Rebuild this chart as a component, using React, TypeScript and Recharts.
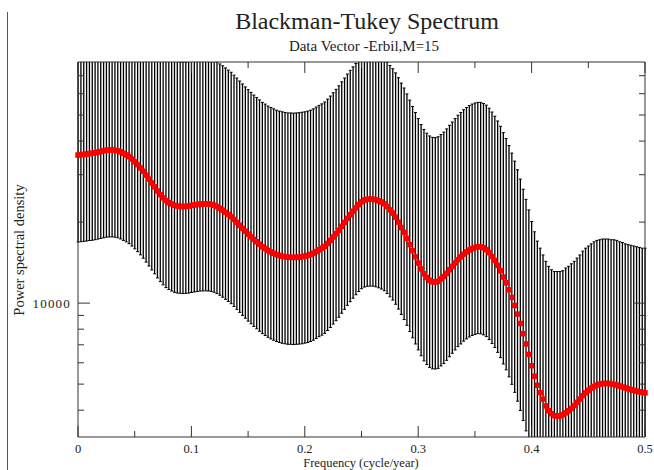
import React from "react";
import * as Recharts from "recharts";

const { ComposedChart, Bar, Scatter, XAxis, YAxis } = Recharts;
// plot-area hook (recharts 3.1+); used to keep the confidence bars inside the frame
const usePlotArea: () => any = (Recharts as any).usePlotArea ?? (() => undefined);

// frequency grid: one estimate every 0.0025 cycle/year, 0 .. 0.5
const freqStep = 0.0025;

// Blackman-Tukey spectral estimate
const psd = [
  35500, 35600, 35700, 35800, 35950, 36050, 36200, 36400, 36600, 36800,
  37000, 37080, 37100, 37000, 36800, 36450, 36000, 35550, 35000, 34300,
  33500, 32700, 31800, 30900, 29900, 28900, 27950, 27050, 26100, 25300,
  24600, 24050, 23650, 23350, 23100, 22950, 22880, 22850, 22880, 22950,
  23050, 23150, 23250, 23320, 23360, 23380, 23350, 23270, 23100, 22850,
  22500, 22150, 21750, 21350, 20950, 20450, 19950, 19450, 18950, 18500,
  18050, 17650, 17250, 16900, 16550, 16200, 15950, 15700, 15500, 15320,
  15150, 15030, 14930, 14860, 14810, 14790, 14780, 14790, 14820, 14870,
  14940, 15030, 15150, 15330, 15550, 15780, 16000, 16250, 16650, 17100,
  17600, 18100, 18650, 19300, 19950, 20650, 21300, 21950, 22600, 23250,
  23800, 24150, 24300, 24360, 24330, 24200, 24000, 23750, 23400, 22850,
  22200, 21600, 20850, 20000, 19100, 18300, 17400, 16500, 15650, 14850,
  14100, 13400, 12850, 12450, 12150, 12000, 11980, 12050, 12300, 12550,
  12900, 13300, 13700, 14100, 14500, 14850, 15200, 15500, 15750, 15950,
  16100, 16200, 16180, 16050, 15800, 15400, 14900, 14400, 13800, 13200,
  12500, 11900, 11200, 10500, 9800, 9100, 8400, 7700, 7050, 6450,
  5850, 5350, 4950, 4650, 4400, 4150, 3980, 3880, 3820, 3800,
  3810, 3850, 3910, 3980, 4060, 4160, 4280, 4400, 4530, 4640,
  4740, 4830, 4900, 4960, 5000, 5020, 5030, 5030, 5010, 4990,
  4960, 4920, 4880, 4840, 4800, 4770, 4740, 4710, 4680, 4660,
  4640,
];

// lower confidence limit (bottom ends of the black bars)
const lowerCI = [
  16860, 16910, 16960, 17010, 17080, 17120, 17200, 17290, 17390, 17480,
  17580, 17610, 17620, 17580, 17480, 17310, 17100, 16890, 16630, 16290,
  15910, 15530, 15110, 14680, 14200, 13730, 13280, 12850, 12400, 12020,
  11690, 11420, 11230, 11090, 10970, 10900, 10870, 10850, 10870, 10900,
  10950, 11000, 11040, 11080, 11100, 11110, 11090, 11050, 10970, 10850,
  10690, 10520, 10330, 10140, 9950, 9710, 9480, 9240, 9000, 8790,
  8570, 8380, 8190, 8030, 7860, 7700, 7580, 7460, 7360, 7280,
  7200, 7140, 7090, 7060, 7030, 7030, 7020, 7030, 7040, 7060,
  7100, 7140, 7200, 7280, 7390, 7500, 7600, 7720, 7910, 8120,
  8360, 8600, 8860, 9170, 9480, 9810, 10120, 10430, 10740, 11040,
  11310, 11470, 11540, 11570, 11560, 11500, 11400, 11280, 11120, 10850,
  10550, 10260, 9900, 9500, 9070, 8690, 8270, 7840, 7430, 7050,
  6700, 6370, 6100, 5910, 5770, 5700, 5690, 5720, 5840, 5960,
  6130, 6320, 6510, 6700, 6890, 7050, 7220, 7360, 7480, 7580,
  7650, 7700, 7690, 7620, 7510, 7320, 7080, 6840, 6560, 6270,
  5940, 5650, 5320, 4990, 4660, 4320, 3990, 3660, 3350, 3060,
  2780, 2540, 2350, 2210, 2090, 1970, 1890, 1840, 1810, 1810,
  1810, 1830, 1860, 1890, 1930, 1980, 2030, 2090, 2150, 2200,
  2250, 2290, 2330, 2360, 2380, 2380, 2390, 2390, 2380, 2370,
  2360, 2340, 2320, 2300, 2280, 2270, 2250, 2240, 2220, 2210,
  2200,
];

// upper confidence limit (top ends of the black bars, clipped by the frame)
const upperCI = [
  122100, 122500, 122800, 123200, 123700, 124000, 124500, 125200, 125900, 126600,
  127300, 127600, 127600, 127300, 126600, 125400, 123800, 122300, 120400, 118000,
  115200, 112500, 109400, 106300, 102900, 99400, 96100, 93100, 89800, 87000,
  84600, 82700, 81400, 80300, 79500, 78900, 78700, 78600, 78700, 78900,
  79300, 79600, 80000, 80200, 80400, 80400, 80300, 80000, 79500, 78600,
  77400, 76200, 74800, 73400, 72100, 70300, 68600, 66900, 65200, 63600,
  62100, 60700, 59300, 58100, 56900, 55700, 54900, 54000, 53300, 52700,
  52100, 51700, 51400, 51100, 50900, 50900, 50800, 50900, 51000, 51200,
  51400, 51700, 52100, 52700, 53500, 54300, 55000, 55900, 57300, 58800,
  60500, 62300, 64200, 66400, 68600, 71000, 73300, 75500, 77700, 80000,
  81900, 83100, 83600, 83800, 83700, 83200, 82600, 81700, 80500, 78600,
  76400, 74300, 71700, 68800, 65700, 63000, 59900, 56800, 53800, 51100,
  48500, 46100, 44200, 42800, 41800, 41300, 41200, 41500, 42300, 43200,
  44400, 45800, 47100, 48500, 49900, 51100, 52300, 53300, 54200, 54900,
  55400, 55700, 55700, 55200, 54400, 53000, 51300, 49500, 47500, 45400,
  43000, 40900, 38500, 36100, 33700, 31300, 28900, 26500, 24300, 22200,
  20100, 18400, 17000, 16000, 15100, 14300, 13700, 13300, 13100, 13100,
  13100, 13200, 13500, 13700, 14000, 14300, 14700, 15100, 15600, 16000,
  16300, 16600, 16900, 17100, 17200, 17300, 17300, 17300, 17200, 17200,
  17100, 16900, 16800, 16600, 16500, 16400, 16300, 16200, 16100, 16000,
  16000,
];

const xTicks = [0, 0.05, 0.1, 0.15, 0.2, 0.25, 0.3, 0.35, 0.4, 0.45, 0.5];
const yTicks = [4000, 5000, 6000, 7000, 8000, 9000, 10000, 20000, 30000, 40000, 50000, 60000, 70000];
const yLabelled = [10000];
const yDomain = [3180, 78700];

const FONT = '"Liberation Serif", "Times New Roman", serif';
const AXIS = "#333";

const rows = psd.map((v, i) => ({
  f: i * freqStep,
  psd: v,
  band: [lowerCI[i], upperCI[i]],
}));

const isMajorX = (v: number) => Math.abs(v * 10 - Math.round(v * 10)) < 1e-6;

const xTick = (side: "top" | "bottom") => (props: any) => {
  const { x, y, payload } = props;
  const major = isMajorX(payload.value);
  const len = major ? 11 : 6;
  const dir = side === "top" ? 1 : -1;
  return (
    <g>
      <line x1={x} x2={x} y1={y} y2={y + dir * len} stroke={AXIS} />
      {side === "bottom" && major && (
        <text x={x} y={y + 16} textAnchor="middle" fontFamily={FONT} fontSize={12.5} fill="#222">
          {String(Math.round(payload.value * 10) / 10)}
        </text>
      )}
    </g>
  );
};

const yTick = (side: "left" | "right") => (props: any) => {
  const { x, y, payload } = props;
  const major = yLabelled.includes(payload.value);
  const len = major ? 12 : 6;
  const dir = side === "left" ? 1 : -1;
  return (
    <g>
      <line x1={x} x2={x + dir * len} y1={y} y2={y} stroke={AXIS} />
      {side === "left" && major && (
        <text
          x={x - 7}
          y={y}
          dy={4.5}
          textAnchor="end"
          fontFamily={FONT}
          fontSize={13}
          letterSpacing={1.2}
          fill="#222"
        >
          {payload.value}
        </text>
      )}
    </g>
  );
};

// one confidence interval: a thin vertical bar with tiny caps, kept inside the frame
const CIBar = (props: any) => {
  const plot = usePlotArea();
  const { x, y, width, height } = props;
  if (x == null || y == null || width == null || height == null) return null;
  const cx = x + width / 2;
  let top = Math.min(y, y + height);
  let bottom = Math.max(y, y + height);
  let capTop = true;
  let capBottom = true;
  if (plot) {
    if (top < plot.y) {
      top = plot.y;
      capTop = false;
    }
    if (bottom > plot.y + plot.height) {
      bottom = plot.y + plot.height;
      capBottom = false;
    }
  }
  if (bottom <= top) return null;
  return (
    <g stroke="#000" strokeWidth={1.3}>
      <line x1={cx} x2={cx} y1={top} y2={bottom} />
      {capTop && <line x1={cx - 1.5} x2={cx + 1.5} y1={top} y2={top} strokeWidth={1} />}
      {capBottom && <line x1={cx - 1.5} x2={cx + 1.5} y1={bottom} y2={bottom} strokeWidth={1} />}
    </g>
  );
};

const RedSquare = (props: any) => {
  const { cx, cy } = props;
  if (cx == null || cy == null) return <g />;
  return <rect x={cx - 2.75} y={cy - 2.75} width={5.5} height={5.5} fill="#ff0000" />;
};

export default function App() {
  return (
    <div
      style={{
        position: "absolute",
        left: 0,
        top: 0,
        width: 654,
        height: 470,
        background: "#fff",
        fontFamily: FONT,
        color: "#222",
      }}
    >
      <ComposedChart width={654} height={470} data={rows} margin={{ top: 61, right: 8, bottom: 32, left: 77 }}>
        <XAxis
          xAxisId="b"
          dataKey="f"
          type="number"
          orientation="bottom"
          domain={[0, 0.5]}
          ticks={xTicks}
          interval={0}
          height={1}
          tickSize={0}
          tickMargin={0}
          tickLine={false}
          tick={xTick("bottom")}
          axisLine={{ stroke: AXIS }}
        />
        <XAxis
          xAxisId="t"
          dataKey="f"
          type="number"
          orientation="top"
          domain={[0, 0.5]}
          ticks={xTicks}
          interval={0}
          height={1}
          tickSize={0}
          tickMargin={0}
          tickLine={false}
          tick={xTick("top")}
          axisLine={{ stroke: AXIS }}
        />
        <YAxis
          yAxisId="l"
          type="number"
          scale="log"
          domain={yDomain}
          allowDataOverflow
          ticks={yTicks}
          interval={0}
          width={1}
          tickSize={0}
          tickMargin={0}
          tickLine={false}
          tick={yTick("left")}
          axisLine={{ stroke: AXIS }}
        />
        <YAxis
          yAxisId="r"
          dataKey="psd"
          type="number"
          scale="log"
          orientation="right"
          domain={yDomain}
          ticks={yTicks}
          interval={0}
          width={1}
          tickSize={0}
          tickMargin={0}
          tickLine={false}
          tick={yTick("right")}
          axisLine={{ stroke: AXIS }}
        />
        <Bar
          dataKey="band"
          xAxisId="b"
          yAxisId="l"
          barSize={1}
          shape={<CIBar />}
          isAnimationActive={false}
        />
        <Scatter
          data={rows}
          dataKey="psd"
          xAxisId="t"
          yAxisId="r"
          shape={RedSquare}
          isAnimationActive={false}
        />
      </ComposedChart>

      <div style={{ position: "absolute", left: 7, top: 12, width: 1, height: 458, background: "#555" }} />
      <div
        style={{
          position: "absolute",
          left: 167,
          top: 7,
          width: 400,
          textAlign: "center",
          fontSize: 24,
          lineHeight: "28px",
          whiteSpace: "nowrap",
        }}
      >
        Blackman-Tukey Spectrum
      </div>
      <div
        style={{
          position: "absolute",
          left: 164,
          top: 38,
          width: 400,
          textAlign: "center",
          fontSize: 15,
          lineHeight: "17px",
          whiteSpace: "nowrap",
        }}
      >
        Data Vector -Erbil,M=15
      </div>
      <div
        style={{
          position: "absolute",
          left: 161,
          top: 457,
          width: 400,
          textAlign: "center",
          fontSize: 12.5,
          lineHeight: "13px",
          whiteSpace: "nowrap",
        }}
      >
        Frequency (cycle/year)
      </div>
      <div
        style={{
          position: "absolute",
          left: 19,
          top: 250,
          transform: "translate(-50%, -50%) rotate(-90deg)",
          fontSize: 14.5,
          lineHeight: "16px",
          whiteSpace: "nowrap",
        }}
      >
        Power spectral density
      </div>
    </div>
  );
}
